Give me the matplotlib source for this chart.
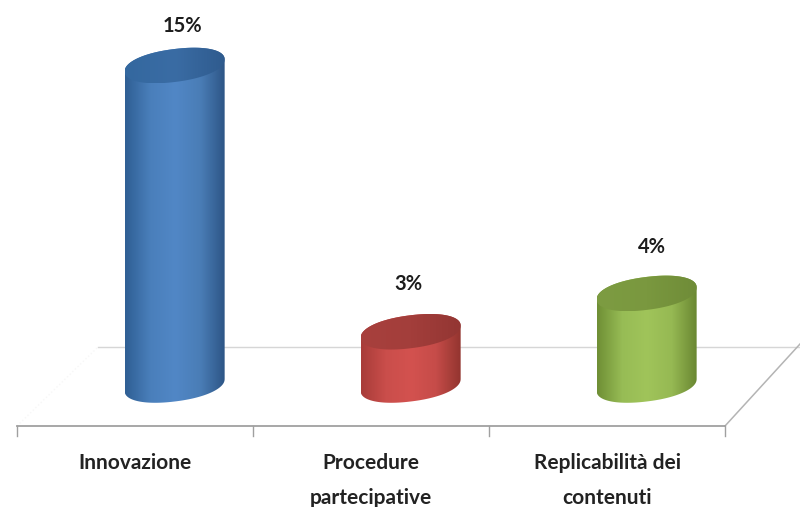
import matplotlib
matplotlib.use('Agg')
import matplotlib.pyplot as plt
from matplotlib.colors import LinearSegmentedColormap
from matplotlib.patches import PathPatch
from matplotlib.path import Path
import numpy as np

categories = ['Innovazione', 'Procedure\npartecipative', 'Replicabilità dei\ncontenuti']
values = [15, 2.5, 4.3]
value_labels = ['15%', '3%', '4%']

side_colors = [['#2f5f94', '#4a7fbb', '#5187c6', '#4a7db6', '#2c5484'],
               ['#a83c39', '#ca4e4b', '#d3524f', '#c64c49', '#93352f'],
               ['#6f8f35', '#97bc55', '#a0c45a', '#96b953', '#6a8732']]
top_colors = [['#34689f', '#3a6ca4', '#2f5b8e'],
              ['#a8403d', '#a33e3b', '#933633'],
              ['#7d9c42', '#7a983f', '#6f8c38']]

plt.rcParams['font.family'] = ['Lato', 'DejaVu Sans']

fig = plt.figure(figsize=(8, 5.07), dpi=100)
ax = fig.add_axes([0, 0, 1, 1])
# one x unit = one category slot, one y unit = one percent
xunit = 236.0
yunit = 21.3
ax.set_xlim(-135 / xunit, (800 - 135) / xunit)
ax.set_ylim(-(507 - 385) / yunit, 385 / yunit)
ax.axis('off')

bar_shift = 0.168
bar_a = 50 / xunit
bar_b = 16.5 / yunit
bar_k = 6 / yunit


def draw_gradient(path, colors, z):
    cmap = LinearSegmentedColormap.from_list('c', colors)
    xmin, ymin = path.vertices.min(axis=0)
    xmax, ymax = path.vertices.max(axis=0)
    im = ax.imshow(np.linspace(0, 1, 200).reshape(1, -1), cmap=cmap, aspect='auto',
                   extent=[xmin, xmax, ymin, ymax], zorder=z, interpolation='bilinear')
    patch = PathPatch(path, fc='none', ec='none', transform=ax.transData)
    ax.add_patch(patch)
    im.set_clip_path(patch)


def ellipse_pts(cx, cy, t):
    # slightly squarer than a true ellipse, like the fuller caps of the chart
    c = np.sign(np.cos(t)) * np.abs(np.cos(t)) ** 0.93
    s = np.sign(np.sin(t)) * np.abs(np.sin(t)) ** 0.93
    return np.column_stack([cx + bar_a * c, cy + bar_b * s + bar_k * c])


# floor
left = -0.5
right = 2.5
back_y = 38 / yunit
front_y = -41 / yunit
ax.plot([left + 81 / xunit, 800 / xunit - 135 / xunit], [back_y, back_y], color='#d6d6d6', lw=1.0, zorder=1)
ax.plot([right, right + 75 / xunit], [front_y, back_y + 3 / yunit], color='#b4b4b4', lw=1.1, zorder=1)
ax.plot([left, left + 81 / xunit], [front_y, back_y], color='#f7f7f7', lw=1, ls=':', zorder=1)
ax.plot([left, right], [front_y, front_y], color='#a0a0a0', lw=1.3, zorder=1)
for edge in [left, 0.5, 1.5, right]:
    ax.plot([edge, edge], [front_y, front_y - 10 / yunit], color='#a0a0a0', lw=1.0, zorder=1)

# cylinders
label_dx = [8, -2, 5]
label_dy = [39, 48, 46]
for i, v in enumerate(values):
    cx = i + bar_shift
    lower = ellipse_pts(cx, 0, np.linspace(np.pi, 2 * np.pi, 80))
    upper = ellipse_pts(cx, v, np.linspace(0, np.pi, 80))
    body = Path(np.vstack([lower, upper, lower[:1]]), closed=True)
    draw_gradient(body, side_colors[i], 2)
    top = Path(ellipse_pts(cx, v, np.linspace(0, 2 * np.pi, 160)), closed=True)
    draw_gradient(top, top_colors[i], 3)
    ax.text(cx + label_dx[i] / xunit, v + label_dy[i] / yunit, value_labels[i], ha='center', va='center',
            fontsize=14.5, fontweight='bold', color='#1c1c1c', zorder=4)

ax.set_xlim(-135 / xunit, (800 - 135) / xunit)
ax.set_ylim(-(507 - 385) / yunit, 385 / yunit)

# category labels
for i, name in enumerate(categories):
    for j, part in enumerate(name.split('\n')):
        ax.text(i, (385 - 463 - 35 * j) / yunit, part, ha='center', va='center',
                fontsize=15, fontweight='bold', color='#222222', zorder=4)

fig.savefig('out.png', dpi=100)
